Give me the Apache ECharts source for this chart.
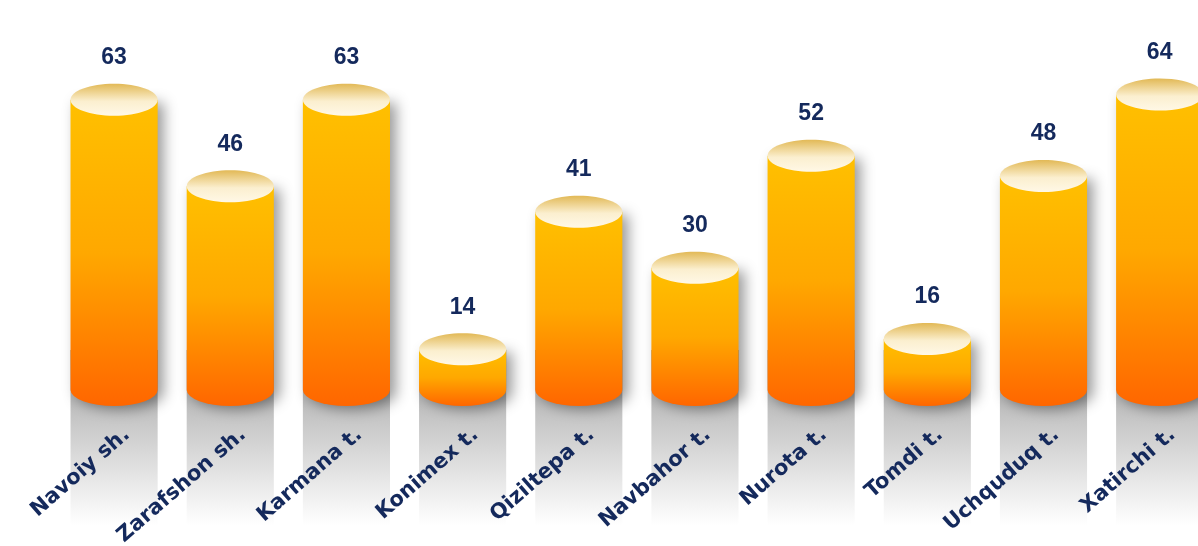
<!DOCTYPE html>
<html>
<head>
<meta charset="utf-8">
<script src="https://cdn.jsdelivr.net/npm/echarts@6/dist/echarts.min.js"></script>
<style>
html, body { margin: 0; padding: 0; background: #fff; }
#chart { width: 1198px; height: 546px; }
</style>
</head>
<body>
<div id="chart"></div>
<script>
const categories = ['Navoiy sh.', 'Zarafshon sh.', 'Karmana t.', 'Konimex t.', 'Qiziltepa t.',
  'Navbahor t.', 'Nurota t.', 'Tomdi t.', 'Uchquduq t.', 'Xatirchi t.'];
const values = [63, 46, 63, 14, 41, 30, 52, 16, 48, 64];

const yMin = 6;
const yMax = 70;
const navy = '#14295c';

function renderItem(params, api) {
  const i = api.value(0);
  const v = api.value(1);
  const top = api.coord([i, v]);
  const base = api.coord([i, yMin]);
  const w = api.size([1, 0])[0] * 0.75;
  const cx = top[0];
  const x = cx - w / 2;
  const rx = w / 2;
  const ry = 16;
  // cylinder body: side plus rounded bottom in one path
  const bodyPath = 'M' + x + ',' + top[1] +
    ' L' + x + ',' + base[1] +
    ' A' + rx + ',' + ry + ' 0 0 0 ' + (x + w) + ',' + base[1] +
    ' L' + (x + w) + ',' + top[1] + ' Z';
  return {
    type: 'group',
    children: [
      // grey reflection under the bar
      {
        type: 'rect',
        shape: { x: x, y: base[1] - 40, width: w, height: 175 },
        style: {
          fill: new echarts.graphic.LinearGradient(0, 0, 0, 1, [
            { offset: 0, color: '#8a8a8a' },
            { offset: 0.35, color: '#c2c2c2' },
            { offset: 1, color: '#ffffff' }
          ])
        }
      },
      {
        type: 'path',
        shape: { pathData: bodyPath },
        style: {
          fill: new echarts.graphic.LinearGradient(0, 0, 0, 1, [
            { offset: 0, color: '#ffc000' },
            { offset: 0.5, color: '#ffa800' },
            { offset: 1, color: '#ff6600' }
          ]),
          shadowBlur: 14, shadowColor: 'rgba(0,0,0,0.4)', shadowOffsetX: 6, shadowOffsetY: 3
        }
      },
      {
        type: 'ellipse',
        shape: { cx: cx, cy: top[1], rx: rx, ry: ry },
        style: {
          fill: new echarts.graphic.LinearGradient(0, 0, 0, 1, [
            { offset: 0, color: '#e2b956' },
            { offset: 0.55, color: '#fbefcf' },
            { offset: 1, color: '#fff8e6' }
          ])
        }
      },
      {
        type: 'text',
        style: {
          x: cx, y: top[1] - 42, text: String(v),
          align: 'center', verticalAlign: 'middle',
          font: 'bold 23px "Liberation Sans", Arial, sans-serif', fill: navy
        }
      },
      {
        type: 'text',
        x: cx + 13, y: base[1] + 42,
        rotation: 41 * Math.PI / 180,
        style: {
          x: 0, y: 0, text: categories[i],
          align: 'right', verticalAlign: 'middle',
          font: 'bold 21px "DejaVu Sans", Verdana, sans-serif', fill: navy
        }
      }
    ]
  };
}

const chart = echarts.init(document.getElementById('chart'));
chart.setOption({
  backgroundColor: '#ffffff',
  animation: false,
  grid: { left: 56, right: 0, top: 64, bottom: 156 },
  xAxis: {
    type: 'value', min: -0.5, max: 9.33,
    show: false, splitLine: { show: false }
  },
  yAxis: {
    type: 'value', min: yMin, max: yMax,
    show: false, splitLine: { show: false }
  },
  series: [{
    type: 'custom',
    renderItem: renderItem,
    clip: false,
    data: values.map((v, i) => [i, v])
  }]
});
</script>
</body>
</html>
